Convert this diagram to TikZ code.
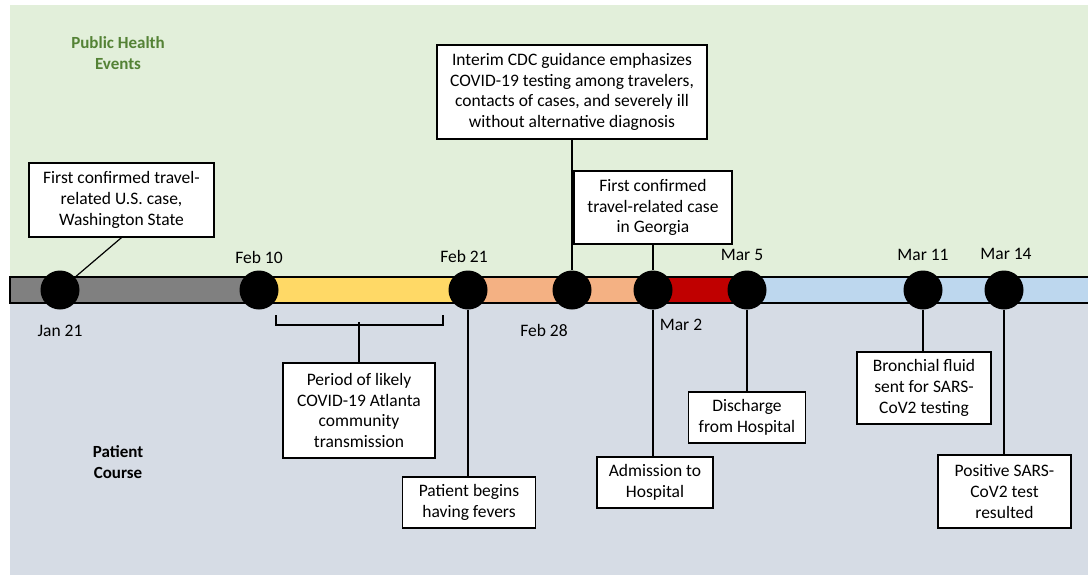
\documentclass[tikz,border=0pt]{standalone}
\usepackage{fontspec}
\setmainfont{Carlito}
\usetikzlibrary{positioning}
\definecolor{phback}{HTML}{E2EFDA}
\definecolor{pcback}{HTML}{D6DCE5}
\definecolor{phtext}{HTML}{548235}
\definecolor{segGray}{HTML}{808080}
\definecolor{segYellow}{HTML}{FFD966}
\definecolor{segSalmon}{HTML}{F4B183}
\definecolor{segRed}{HTML}{C00000}
\definecolor{segBlue}{HTML}{BDD7EE}

\begin{document}
\begin{tikzpicture}[x=1pt,y=-1pt,
                  every node/.style={font=\fontsize{17.5}{20.8}\selectfont},
                  event/.style={draw,line width=1.2pt,fill=white,align=center,inner sep=0pt},
                  dot/.style={circle,fill=black,minimum size=39pt,inner sep=0pt},
                  link/.style={line width=1.2pt}]
            \useasboundingbox (0,0) rectangle (1088,582);
            % backgrounds
            \fill[phback] (10,5) rectangle (1088,290);
            \fill[pcback] (10,290) rectangle (1088,575);
            \node[font=\fontsize{17}{20.8}\selectfont\bfseries,text=phtext,align=center] (phlabel) at (118,53) {Public Health\\Events};
            \node[font=\fontsize{17}{20.8}\selectfont\bfseries,align=center] (pclabel) at (118,462) {Patient\\Course};
            % timeline bar
            \fill[segGray]   (10,277) rectangle (259,303);
            \fill[segYellow] (259,277) rectangle (468,303);
            \fill[segSalmon] (468,277) rectangle (653,303);
            \fill[segRed]    (653,277) rectangle (747,303);
            \fill[segBlue]   (747,277) rectangle (1088,303);
            \draw[line width=1.2pt] (1088,277) -- (10,277) -- (10,303) -- (1088,303);
            % dates on the bar
            \foreach \n/\x in {jan21/60, feb10/259, feb21/468, feb28/572, mar2/653, mar5/747, mar11/923, mar14/1004}
                  \node[dot] (\n) at (\x,290) {};
            \node (jan21lab) at (60,331) {Jan 21};
            \node (feb10lab) at (259,257) {Feb 10};
            \node (feb21lab) at (464,256) {Feb 21};
            \node (feb28lab) at (544,330) {Feb 28};
            \node (mar2lab) at (681,325) {Mar 2};
            \node (mar5lab) at (742,255) {Mar 5};
            \node (mar11lab) at (923,255) {Mar 11};
            \node (mar14lab) at (1006,254) {Mar 14};
            % event boxes
            \node[event,minimum width=185pt,minimum height=74pt] (uscase) at (121.5,200) {First confirmed travel-\\related U.S. case,\\Washington State};
            \node[event,minimum width=270pt,minimum height=94pt] (cdc) at (572,92) {Interim CDC guidance emphasizes\\COVID-19 testing among travelers,\\contacts of cases, and severely ill\\without alternative diagnosis};
            \node[event,minimum width=158pt,minimum height=73pt] (georgia) at (653,207.5) {First confirmed\\travel-related case\\in Georgia};
            \node[event,minimum width=152pt,minimum height=95pt] (period) at (359,410.5) {Period of likely\\COVID-19 Atlanta\\community\\transmission};
            \node[event,minimum width=133pt,minimum height=51pt] (fevers) at (469,502.5) {Patient begins\\having fevers};
            \node[event,minimum width=116pt,minimum height=51pt] (admission) at (655,482.5) {Admission to\\Hospital};
            \node[event,minimum width=117pt,minimum height=51pt] (discharge) at (747,417.5) {Discharge\\from Hospital};
            \node[event,minimum width=134pt,minimum height=72pt] (bronchial) at (924,388) {Bronchial fluid\\sent for SARS-\\CoV2 testing};
            \node[event,minimum width=133pt,minimum height=73pt] (positive) at (1004.5,491.5) {Positive SARS-\\CoV2 test\\resulted};
            % connectors
            \draw[link] (uscase.south) -- (jan21);
            \draw[link] (cdc.south) -- (feb28);
            \draw[link] (georgia.south) -- (mar2);
            \draw[link] (fevers.north -| feb21) -- (feb21);
            \draw[link] (admission.north -| mar2) -- (mar2);
            \draw[link] (discharge.north) -- (mar5);
            \draw[link] (bronchial.north -| mar11) -- (mar11);
            \draw[link] (positive.north -| mar14) -- (mar14);
            % bracket
            \coordinate (brace) at (359,325);
            \draw[line width=2.6pt] (276,315) -- (276,325) -- (443,325) -- (443,315);
            \draw[line width=2.6pt] (brace) -- ++(0,-3);
            \draw[link] (brace) -- (period.north);
\end{tikzpicture}
\end{document}
